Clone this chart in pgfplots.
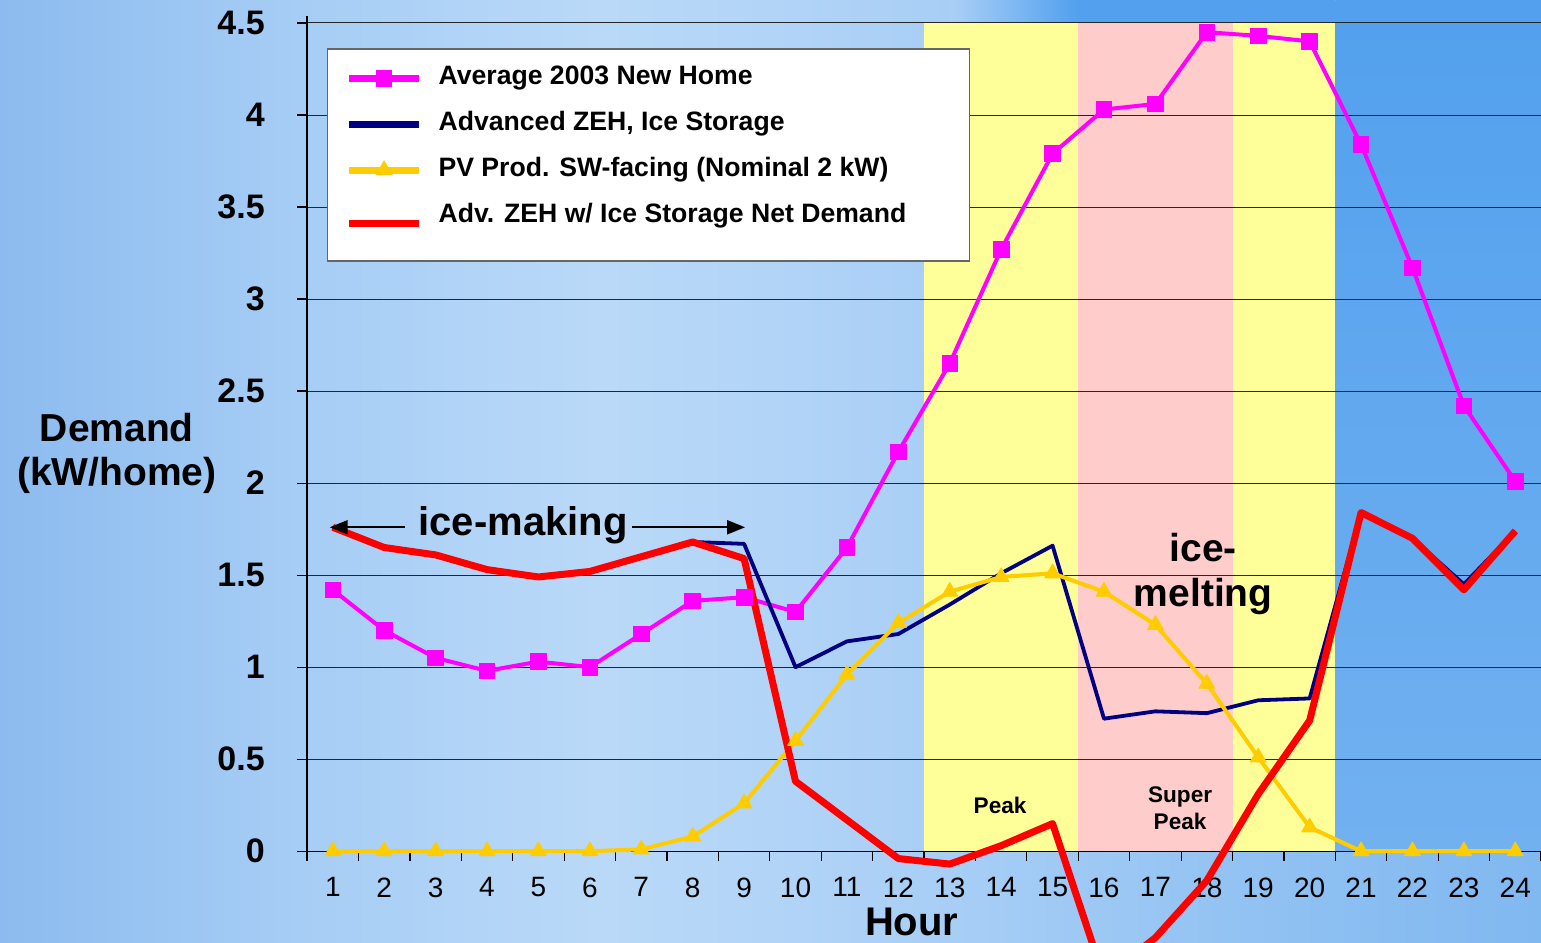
\documentclass[border=0pt]{standalone}
\usepackage{pgfplots}
\pgfplotsset{compat=1.18}
\usepackage{fontspec}
\setmainfont{Liberation Sans}
\usetikzlibrary{arrows.meta}
\definecolor{bgA}{HTML}{8CBBEF}
\definecolor{bgB}{HTML}{A6CDF5}
\definecolor{bgC}{HTML}{BAD9F8}
\definecolor{bgD}{HTML}{ABD0F6}
\definecolor{bgE}{HTML}{8EC0F2}
\definecolor{bgF}{HTML}{80B8F0}
\definecolor{bgDT}{HTML}{52A0EE}
\definecolor{bgDB}{HTML}{72B1F0}
\definecolor{bandY}{HTML}{FFFF99}
\definecolor{bandP}{HTML}{FFCCCC}
\definecolor{cMag}{HTML}{FF00FF}
\definecolor{cNavy}{HTML}{000080}
\definecolor{cYel}{HTML}{FFCC00}
\definecolor{cRed}{HTML}{FF0000}
\pgfdeclarehorizontalshading{bgshade}{100bp}{color(0bp)=(bgA); color(25bp)=(bgA); color(34.7bp)=(bgB); color(44.5bp)=(bgC); color(54.2bp)=(bgD); color(67.2bp)=(bgE); color(75bp)=(bgF); color(100bp)=(bgF)}
\newcommand{\ls}{\rule[-3.2pt]{0pt}{12.6pt}}
\newcommand{\lsl}{\rule[-10.6pt]{0pt}{20pt}}
\begin{document}
\begin{tikzpicture}
\begin{axis}[
  x=25.7pt, y=92pt,
  xmin=0.5, xmax=24.5, ymin=0, ymax=4.54,
  clip=false,
  set layers,
  axis x line*=bottom, axis y line*=left,
  axis line style={black, line width=0.6pt},
  x tick label as interval,
  xtick={0.5,1.5,...,24.5},
  xticklabels={1,2,3,4,5,6,7,8,9,10,11,12,13,14,15,16,17,18,19,20,21,22,23,24},
  ytick={0,0.5,1,1.5,2,2.5,3,3.5,4,4.5},
  tick align=outside,
  major tick length=5pt,
  tick style={black, line width=0.6pt},
  ymajorgrids,
  grid style={black!85, line width=0.5pt},
  /pgf/number format/assume math mode=true,
  yticklabel style={font=\bfseries\fontsize{17}{17}\selectfont, inner sep=0pt, xshift=-16pt},
  xticklabel style={font=\fontsize{14}{14}\selectfont, inner sep=0pt, yshift=-8pt},
  legend style={
    at={(axis cs:0.883,4.364)}, anchor=north west,
    draw=black!60, line width=0.8pt, fill=white,
    font=\bfseries\fontsize{13.3}{13.3}\selectfont,
    inner xsep=9pt, inner ysep=8.5pt,
    nodes={inner sep=0pt, text height=, text depth=},
    row sep=10.15pt,
  },
  legend cell align=left,
  legend image code/.code={
    \draw[#1, line width=3.5pt, mark repeat=2, mark phase=2] plot coordinates {(0pt,0pt) (17.5pt,0pt) (35pt,0pt)};
    \path (43pt,0pt);
  },
  line join=round,
]
\begin{pgfonlayer}{axis background}
  \shade[shading=bgshade] (axis cs:-5.473,-0.4946) rectangle (axis cs:24.5,4.625);
  \shade[left color=bgD, right color=bgDT] (axis cs:13.0,4.5) rectangle (axis cs:15.5,4.625);
  \fill[bgDT] (axis cs:15.5,4.5) rectangle (axis cs:20.5,4.625);
  \shade[top color=bgDT, bottom color=bgDB] (axis cs:20.5,0) rectangle (axis cs:24.5,4.625);
  \fill[bandY] (axis cs:12.5,0) rectangle (axis cs:15.5,4.5);
  \fill[bandP] (axis cs:15.5,0) rectangle (axis cs:18.5,4.5);
  \fill[bandY] (axis cs:18.5,0) rectangle (axis cs:20.5,4.5);
\end{pgfonlayer}

\addplot[color=cMag, line width=2pt, mark=square*, mark size=3.9pt, mark options={solid, line width=0.4pt, fill=cMag}] coordinates {
(1,1.42)(2,1.20)(3,1.05)(4,0.98)(5,1.03)(6,1.00)(7,1.18)(8,1.36)(9,1.38)(10,1.30)(11,1.65)(12,2.17)
(13,2.65)(14,3.27)(15,3.79)(16,4.03)(17,4.06)(18,4.45)(19,4.43)(20,4.40)(21,3.84)(22,3.17)(23,2.42)(24,2.01)};
\addlegendentry{\ls Average 2003 New Home}

\addplot[color=cNavy, line width=1.9pt, mark=none] coordinates {
(1,1.76)(2,1.65)(3,1.61)(4,1.53)(5,1.49)(6,1.52)(7,1.60)(8,1.68)(9,1.67)(10,1.00)(11,1.14)(12,1.18)
(13,1.34)(14,1.51)(15,1.66)(16,0.72)(17,0.76)(18,0.75)(19,0.82)(20,0.83)(21,1.84)(22,1.70)(23,1.45)(24,1.74)};
\addlegendentry{\ls Advanced ZEH, Ice Storage}

\addplot[color=cYel, line width=2pt, mark=triangle*, mark size=4.6pt, mark options={solid, line width=0.4pt, fill=cYel}] coordinates {
(1,0)(2,0)(3,0)(4,0)(5,0)(6,0)(7,0.01)(8,0.08)(9,0.26)(10,0.60)(11,0.96)(12,1.24)
(13,1.41)(14,1.49)(15,1.51)(16,1.41)(17,1.23)(18,0.91)(19,0.51)(20,0.13)(21,0)(22,0)(23,0)(24,0)};
\addlegendentry{\ls PV Prod. SW-facing (Nominal 2 kW)}

\addplot[color=cRed, line width=3.5pt, mark=none] coordinates {
(1,1.76)(2,1.65)(3,1.61)(4,1.53)(5,1.49)(6,1.52)(7,1.60)(8,1.68)(9,1.59)(10,0.38)(11,0.17)(12,-0.04)
(13,-0.07)(14,0.03)(15,0.15)(16,-0.69)(17,-0.47)(18,-0.16)(19,0.31)(20,0.71)(21,1.84)(22,1.70)(23,1.42)(24,1.74)};
\addlegendentry{\lsl Adv. ZEH w/ Ice Storage Net Demand\hspace*{22.5pt}}

\node[font=\bfseries\fontsize{20}{20}\selectfont, inner sep=0pt] (im) at (axis cs:4.70,1.772) {ice-making};
\draw[line width=1pt, -{Triangle[length=9pt,width=7pt]}] (axis cs:2.40,1.76) -- (axis cs:0.94,1.76);
\draw[line width=1pt, -{Triangle[length=9pt,width=7pt]}] (axis cs:6.82,1.76) -- (axis cs:9.02,1.76);
\node[font=\bfseries\fontsize{19.5}{22.5}\selectfont, align=center, inner sep=0pt] at (axis cs:17.93,1.505) {ice-\\melting};
\node[font=\bfseries\fontsize{11.3}{13.5}\selectfont, inner sep=0pt] at (axis cs:13.98,0.25) {Peak};
\node[font=\bfseries\fontsize{11.3}{13.5}\selectfont, align=center, inner sep=0pt] at (axis cs:17.48,0.233) {Super\\Peak};
\node[font=\bfseries\fontsize{19.5}{22}\selectfont, align=center, inner sep=0pt] at (axis cs:-3.20,2.16) {Demand\\(kW/home)};
\node[font=\bfseries\fontsize{20}{20}\selectfont, inner sep=0pt] at (axis cs:12.26,-0.385) {Hour};

\coordinate (bbsw) at (axis cs:-5.473,-0.4946);
\coordinate (bbne) at (axis cs:24.5,4.625);
\end{axis}
\pgfresetboundingbox
\useasboundingbox (bbsw) rectangle (bbne);
\end{tikzpicture}
\end{document}
